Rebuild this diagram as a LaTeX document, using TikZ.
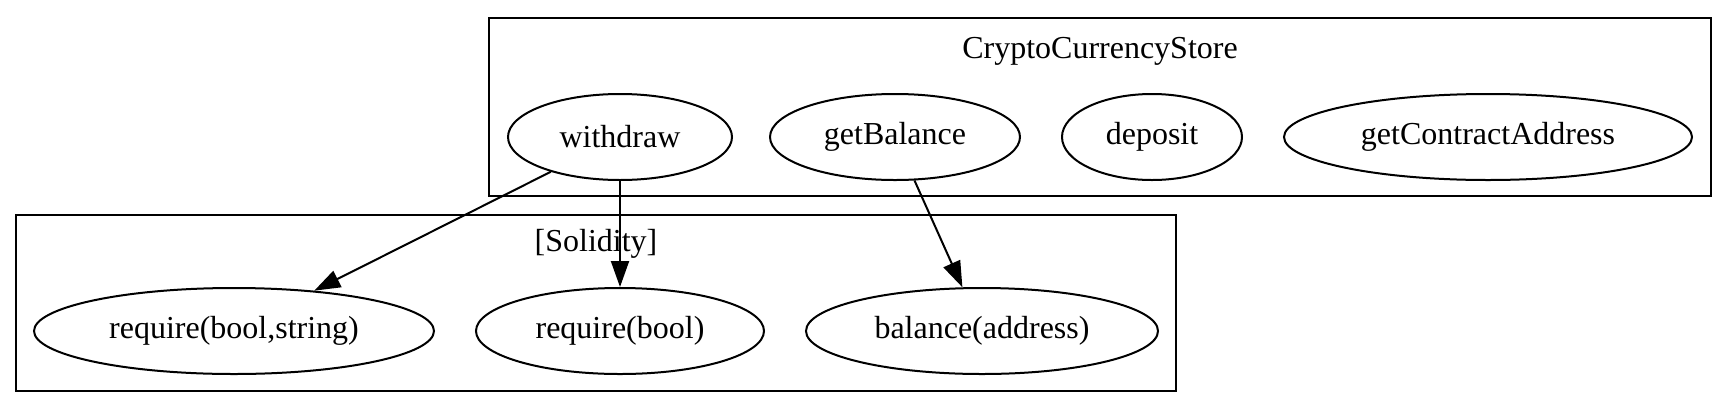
\documentclass[tikz,border=0pt]{standalone}
\usepackage{fontspec}
\setmainfont{Liberation Serif}
\usetikzlibrary{shapes.geometric,arrows.meta}
\begin{document}
\begin{tikzpicture}[x=0.5pt,y=-0.5pt,
  fn/.style={draw,ellipse,line width=1pt,inner sep=0pt,minimum height=43pt,font=\fontsize{16pt}{18pt}\selectfont},
  cluster/.style={draw,line width=1pt},
  clabel/.style={font=\fontsize{16pt}{18pt}\selectfont,inner sep=0pt},
  edge/.style={line width=1pt,-{Triangle[length=13pt,width=9pt]}}]
\useasboundingbox (0,0) rectangle (1728,408);
% clusters
\draw[cluster] (489,18) rectangle (1711,196);
\draw[cluster] (16,215) rectangle (1176,391);
\node[clabel] (lstore) at (1100,51) {CryptoCurrencyStore};
% nodes
\node[fn,minimum width=112pt] (withdraw) at (620,137) {withdraw};
\node[fn,minimum width=125pt] (getBalance) at (895,137) {getBalance};
\node[fn,minimum width=90pt] (deposit) at (1152,137) {deposit};
\node[fn,minimum width=204pt] (getCA) at (1488,137) {getContractAddress};
\node[fn,minimum width=200pt] (rbs) at (234,331) {require(bool,string)};
\node[fn,minimum width=144pt] (rb) at (620,331) {require(bool)};
\node[fn,minimum width=176pt] (bal) at (982,331) {balance(address)};
% edges
\draw[edge] (withdraw) -- (rbs);
\draw[edge] (withdraw.south) -- (rb.north);
\draw[edge] (getBalance) -- (bal);
\node[clabel] (lsol) at (596,244) {[Solidity]};
\end{tikzpicture}
\end{document}
